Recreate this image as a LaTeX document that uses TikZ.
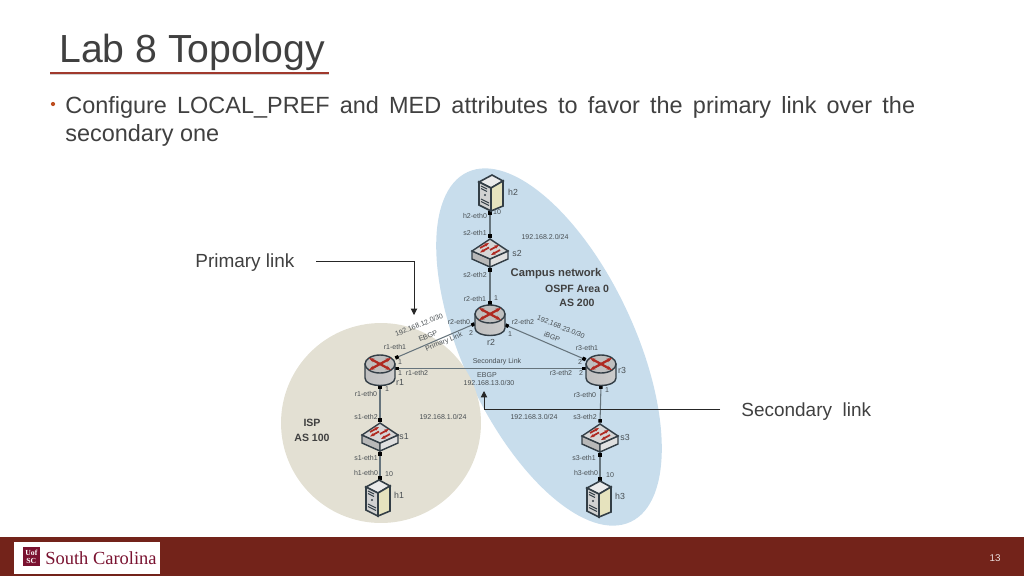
\documentclass[tikz,border=0pt]{standalone}
\usepackage{fontspec}
\setmainfont{Liberation Sans}
\newfontfamily\logofont{Liberation Serif}
\usetikzlibrary{shapes.geometric, arrows.meta, positioning}

\definecolor{garnet}{HTML}{73231A}
\definecolor{logored}{HTML}{7A1230}
\definecolor{rulered}{HTML}{A0392D}
\definecolor{textgray}{HTML}{404040}
\definecolor{labelgray}{HTML}{484E52}
\definecolor{campusblue}{HTML}{C8DDEC}
\definecolor{ispbeige}{HTML}{E3E0D3}
\definecolor{linkgray}{HTML}{66747C}
\definecolor{iconline}{HTML}{333E46}
\definecolor{iconred}{HTML}{B02A22}

\begin{document}
\begin{tikzpicture}[x=0.02cm, y=-0.02cm,
        small_label/.style = {
            inner sep=0pt,
            text=labelgray,
            font=\fontsize{4}{5}\selectfont
        },
        dev_name/.style = {
            inner sep=0pt,
            text=labelgray,
            font=\fontsize{5}{6}\selectfont
        },
        net_title/.style = {
            inner sep=0pt,
            text=textgray,
            font=\fontsize{6}{7}\selectfont\bfseries
        },
        callout/.style = {
            inner sep=0pt,
            text=textgray,
            font=\fontsize{10.8}{13}\selectfont
        },
        dev_box/.style = {
            rectangle,
            inner sep=0pt,
            minimum width=0.6cm,
            minimum height=0.6cm
        },
        host_box/.style = {
            dev_box,
            minimum height=0.72cm
        },
        link/.style = {
            draw=linkgray,
            line width=0.6pt,
            {Square[black, length=2pt, width=2pt]}-{Square[black, length=2pt, width=2pt]}
        },
        pointer/.style = {
            draw=black!85,
            line width=0.5pt,
            -{Triangle[length=3.6pt, width=3.6pt]}
        },
        router_icon/.pic = {
            \draw[iconline, line width=0.8pt, left color=black!25, middle color=white, right color=black!20]
                (-15,-6) -- (-15,8) .. controls (-15,18) and (15,18) .. (15,8) -- (15,-6) -- cycle;
            \draw[iconline, line width=0.8pt, fill=black!25] (0,-6) ellipse (15 and 9);
            \draw[iconred, line width=1.3pt, {Stealth[length=3pt]}-{Stealth[length=3pt]}] (-11,0) -- (11,-12);
            \draw[iconred, line width=1.3pt, {Stealth[length=3pt]}-{Stealth[length=3pt]}] (-11,-12) -- (11,0);
        },
        switch_icon/.pic = {
            \draw[iconline, line width=0.8pt, fill=black!28]
                (-18,-2) -- (-18,6) -- (0,14) -- (0,6) -- cycle;
            \draw[iconline, line width=0.8pt, fill=black!12]
                (18,-2) -- (18,6) -- (0,14) -- (0,6) -- cycle;
            \draw[iconline, line width=0.8pt, fill=black!16]
                (0,-14) -- (18,-2) -- (0,6) -- (-18,-2) -- cycle;
            \draw[iconred, line width=1pt, -{Stealth[length=2.6pt]}] (-10,-5) -- (-1,-10);
            \draw[iconred, line width=1pt, -{Stealth[length=2.6pt]}] (0,-3) -- (9,-8);
            \draw[iconred, line width=1pt, -{Stealth[length=2.6pt]}] (-1,-5.5) -- (-10,-0.5);
            \draw[iconred, line width=1pt, -{Stealth[length=2.6pt]}] (10,-3) -- (1,2);
        },
        host_icon/.pic = {
            \draw[iconline, line width=0.9pt, fill=black!8]
                (2,-18) -- (13,-12) -- (1,-5) -- (-11,-11) -- cycle;
            \draw[iconline, line width=0.9pt, fill=ispbeige!90!yellow]
                (1,-5) -- (13,-12) -- (13,13) -- (1,18) -- cycle;
            \draw[iconline, line width=0.9pt, fill=black!18]
                (-11,-11) -- (1,-5) -- (1,18) -- (-11,12) -- cycle;
            \draw[iconline, line width=0.6pt] (-9,-7) -- (-3,-4) (-9,-4.5) -- (-3,-1.5) (-9,6) -- (-1,10) (-9,8.5) -- (-1,12.5);
            \fill[iconline] (-5,2) circle (1.2);
        }
    ]

    \useasboundingbox (0,0) rectangle (1024,576);

    % title and text
    \node (title) [anchor=base west, inner sep=0pt, text=textgray, font=\fontsize{22.3}{26}\selectfont] at (59,62) {Lab 8 Topology};
    \coordinate (rule_left) at (50,73);
    \coordinate (rule_right) at (329,73);
    \draw[black!18, line width=1.6pt] ([yshift=-0.5pt]rule_left) -- ([yshift=-0.5pt]rule_right);
    \draw[rulered, line width=1.3pt] (rule_left) -- (rule_right);
    \node (bullet) [circle, fill=rulered!70!orange, inner sep=0pt, minimum size=2.4pt] at (53,104) {};
    \node (body) [anchor=north west, inner sep=0pt, text=textgray, text width=17cm, align=justify, font=\fontsize{13.35}{16.2}\selectfont] at (65,96)
        {Configure LOCAL\_PREF and MED attributes to favor the primary link over the \mbox{secondary} one};

    % network areas
    \node (campus_area) [ellipse, fill=campusblue, minimum width=7.72cm, minimum height=3.44cm, rotate=-65] at (549,347) {};
    \node (isp_area) [circle, fill=ispbeige, minimum size=4cm] at (381,423) {};

    % devices
    \node (h2) [host_box] at (490,193) {};
    \node (s2) [dev_box] at (490,253) {};
    \node (r2) [dev_box] at (490,320) {};
    \node (r1) [dev_box] at (380,370) {};
    \node (r3) [dev_box] at (601,370) {};
    \node (s1) [dev_box] at (380,437) {};
    \node (s3) [dev_box] at (600,438) {};
    \node (h1) [host_box] at (380,498) {};
    \node (h3) [host_box] at (600,499) {};

    % links
    \draw[link] (h2.south) -- (s2.north);
    \draw[link] (s2.south) -- (r2.north);
    \draw[link] (r2.194) -- (r1.38);
    \draw[link] (r2.342) -- (r3.146);
    \draw[link] (r1.5) -- (r3.175);
    \draw[link] (r1.south) -- (s1.north);
    \draw[link] (r3.south) -- (s3.north);
    \draw[link] (s1.south) -- (h1.north);
    \draw[link] (s3.south) -- (h3.north);

    \pic at (h2) {host_icon};
    \pic at (s2) {switch_icon};
    \pic at (r2) {router_icon};
    \pic at (r1) {router_icon};
    \pic at (r3) {router_icon};
    \pic at (s1) {switch_icon};
    \pic at (s3) {switch_icon};
    \pic at ([xshift=-0.06cm]h1) {host_icon};
    \pic at ([xshift=-0.04cm]h3) {host_icon};

    % labels, campus side
    \node (h2_name) [dev_name] at (513,192) {h2};
    \node (h2_eth0) [small_label] at (475,216) {h2-eth0};
    \node (h2_addr) [small_label] at (497,212) {10};
    \node (s2_eth1) [small_label] at (475,233) {s2-eth1};
    \node (net_2) [small_label] at (545,237) {192.168.2.0/24};
    \node (s2_name) [dev_name] at (517,253) {s2};
    \node (s2_eth2) [small_label] at (475,275) {s2-eth2};
    \node (campus_title) [net_title, font=\fontsize{6.4}{7}\selectfont\bfseries] at (556,274) {Campus network};
    \node (ospf_title) [net_title] at (577,289) {OSPF Area 0};
    \node (as200_title) [net_title] at (577,303) {AS 200};
    \node (r2_eth1) [small_label] at (475,299) {r2-eth1};
    \node (r2_addr1) [small_label] at (496,298) {1};
    \node (r2_eth0) [small_label] at (459,322) {r2-eth0};
    \node (r2_addr0) [small_label] at (471,333) {2};
    \node (r2_eth2) [small_label] at (523,322) {r2-eth2};
    \node (r2_addr2) [small_label] at (510,334) {1};
    \node (r2_name) [dev_name] at (491,342) {r2};
    \node (net_23) [small_label, rotate=-22] at (561,327) {192.168.23.0/30};
    \node (ibgp) [small_label, rotate=-22] at (552,337) {iBGP};
    \node (r3_eth1) [small_label] at (587,348) {r3-eth1};
    \node (r3_addr1) [small_label] at (580,362) {2};
    \node (r3_addr2) [small_label] at (581,373) {2};
    \node (r3_eth2) [small_label] at (561,373) {r3-eth2};
    \node (r3_name) [dev_name] at (622,370) {r3};
    \node (r3_eth0) [small_label] at (585,395) {r3-eth0};
    \node (r3_addr0) [small_label] at (607,390) {1};
    \node (s3_eth2) [small_label] at (585,417) {s3-eth2};
    \node (s3_name) [dev_name] at (625,437) {s3};
    \node (s3_eth1) [small_label] at (584,458) {s3-eth1};
    \node (h3_eth0) [small_label] at (586,473) {h3-eth0};
    \node (h3_addr) [small_label] at (610,475) {10};
    \node (h3_name) [dev_name] at (620,496) {h3};
    \node (net_3) [small_label] at (534,417) {192.168.3.0/24};
    \node (secondary_tag) [small_label] at (497,362) {Secondary Link};
    \node (ebgp_13) [small_label] at (487,375) {EBGP};
    \node (net_13) [small_label] at (489,383) {192.168.13.0/30};

    % labels, ISP side
    \node (net_12) [small_label, rotate=22] at (419,325) {192.168.12.0/30};
    \node (ebgp_12) [small_label, rotate=22] at (428,336) {EBGP};
    \node (primary_tag) [small_label, rotate=22] at (444,342) {Primary Link};
    \node (r1_eth1) [small_label] at (395,347) {r1-eth1};
    \node (r1_addr1) [small_label] at (400,362) {1};
    \node (r1_addr2) [small_label] at (400,373) {1};
    \node (r1_eth2) [small_label] at (417,373) {r1-eth2};
    \node (r1_name) [dev_name] at (400,382) {r1};
    \node (r1_addr0) [small_label] at (387,389) {1};
    \node (r1_eth0) [small_label] at (366,394) {r1-eth0};
    \node (s1_eth2) [small_label] at (366,417) {s1-eth2};
    \node (net_1) [small_label] at (443,417) {192.168.1.0/24};
    \node (isp_title) [net_title] at (312,423) {ISP};
    \node (as100_title) [net_title] at (312,438) {AS 100};
    \node (s1_name) [dev_name] at (404,437) {s1};
    \node (s1_eth1) [small_label] at (366,458) {s1-eth1};
    \node (h1_eth0) [small_label] at (366,473) {h1-eth0};
    \node (h1_addr) [small_label] at (389,474) {10};
    \node (h1_name) [dev_name] at (399,495) {h1};

    % callouts
    \node (primary_text) [callout, anchor=base west] at (195,267) {Primary link};
    \node (secondary_text) [callout, anchor=base west] at (741,416) {Secondary\ \ link};
    \coordinate (primary_start) at (316,261);
    \coordinate (primary_tip) at (414,315);
    \coordinate (secondary_start) at (720,409);
    \coordinate (secondary_tip) at (484,391);
    \draw[pointer] (primary_start) -| (primary_tip);
    \draw[pointer] (secondary_start) -| (secondary_tip);

    % footer
    \node (footer) [anchor=north west, fill=garnet, inner sep=0pt, minimum width=20.48cm, minimum height=0.78cm] at (0,537) {};
    \node (logo_box) [anchor=north west, fill=white, inner sep=0pt, minimum width=2.92cm, minimum height=0.64cm] at (14,542) {};
    \node (logo_mark) [anchor=north west, fill=logored, inner sep=0pt, minimum width=0.34cm, minimum height=0.38cm, align=center, text=white, font=\logofont\bfseries\fontsize{4.4}{4.4}\selectfont] at (22.5,547) {Uof\\SC};
    \node (logo_name) [anchor=base west, inner sep=0pt, text=logored, font=\logofont\fontsize{10.5}{12}\selectfont] at (45,564) {South Carolina};
    \node (page_number) [inner sep=0pt, text=white!85!garnet, font=\fontsize{5.6}{7}\selectfont] at (995,558) {13};
\end{tikzpicture}
\end{document}
